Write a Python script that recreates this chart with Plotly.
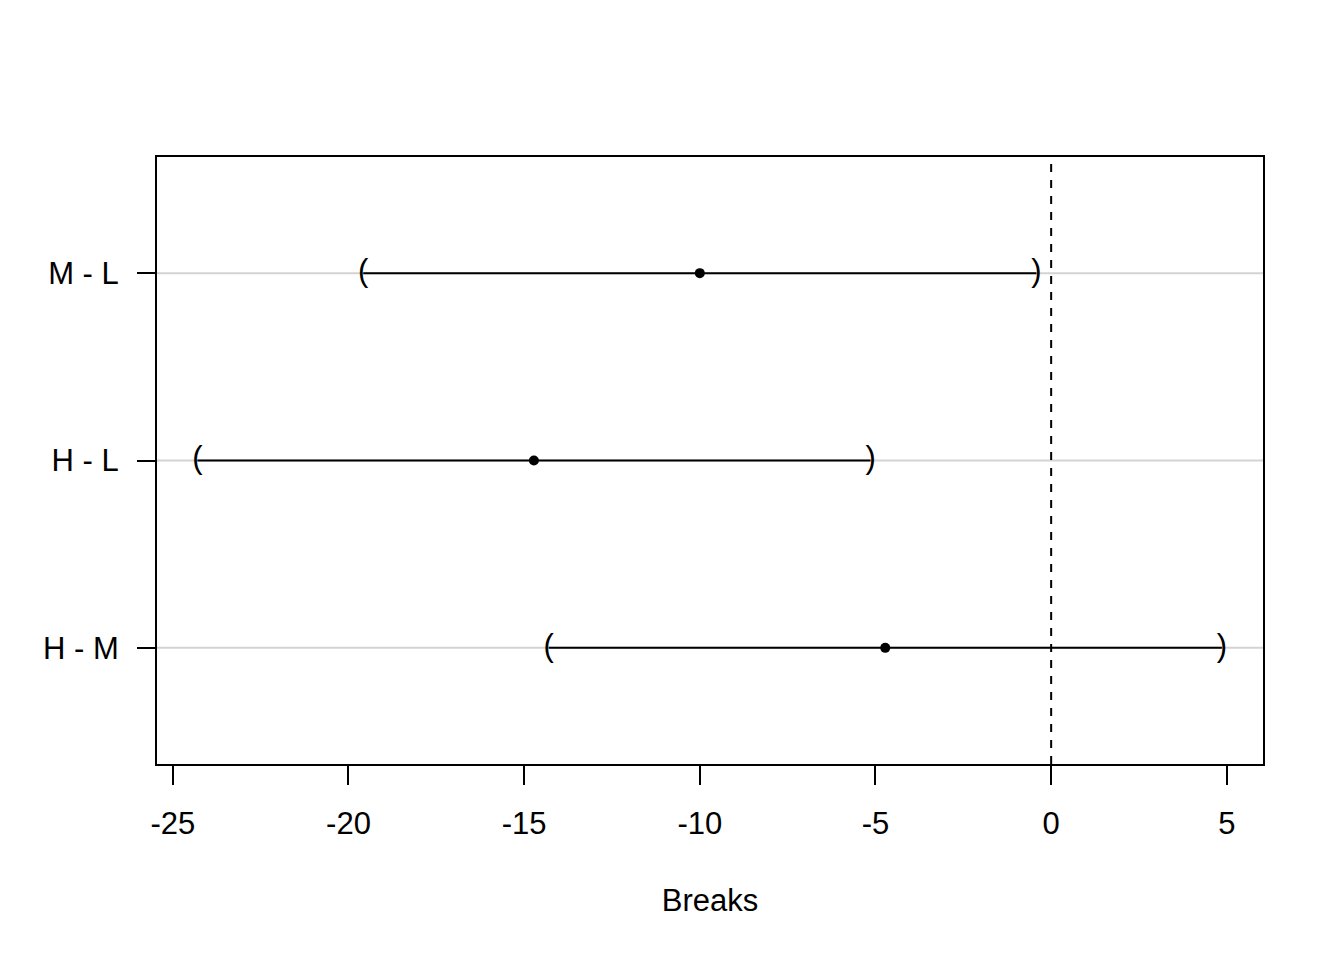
import plotly.graph_objects as go

comparisons = ["H - M", "H - L", "M - L"]
diff = [-4.722, -14.722, -10.000]
lwr = [-14.30, -24.30, -19.58]
upr = [4.86, -5.14, -0.42]

ypos = list(range(1, len(comparisons) + 1))
FONT = "Liberation Sans, Arial, sans-serif"
FS = 31

fig = go.Figure()

# grid lines (horizontal light grey at each comparison)
for y in ypos:
    fig.add_shape(type="line", xref="paper", yref="y", x0=0, x1=1, y0=y, y1=y,
                  line=dict(color="#d3d3d3", width=2), layer="below")

# zero reference
fig.add_shape(type="line", xref="x", yref="paper", x0=0, x1=0, y0=0, y1=1,
              line=dict(color="black", width=2, dash="8px,8px"))

# interval segments
for lo, hi, y in zip(lwr, upr, ypos):
    fig.add_trace(go.Scatter(x=[lo, hi], y=[y, y], mode="lines",
                             line=dict(color="black", width=2),
                             showlegend=False, hoverinfo="skip"))

# brackets
fig.add_trace(go.Scatter(x=lwr, y=ypos, mode="text", text=["("] * len(lwr),
                         textposition="middle center",
                         textfont=dict(family=FONT, size=FS, color="black"),
                         showlegend=False, hoverinfo="skip"))
fig.add_trace(go.Scatter(x=upr, y=ypos, mode="text", text=[")"] * len(upr),
                         textposition="middle center",
                         textfont=dict(family=FONT, size=FS, color="black"),
                         showlegend=False, hoverinfo="skip"))

# point estimates
fig.add_trace(go.Scatter(x=diff, y=ypos, mode="markers",
                         marker=dict(color="black", size=10),
                         showlegend=False, hoverinfo="skip"))

fig.update_layout(
    width=1344, height=960,
    margin=dict(l=149, r=89, t=149, b=204),
    paper_bgcolor="white", plot_bgcolor="white",
    font=dict(family=FONT, size=FS, color="black"),
    showlegend=False,
)
fig.update_xaxes(range=[-25.45, 6.03], tickvals=[-25, -20, -15, -10, -5, 0, 5],
                 ticktext=["-25", "-20", "-15", "-10", "-5", "0", "5"],
                 ticks="outside", ticklen=19, tickwidth=2, tickcolor="black",
                 showline=True, linecolor="black", linewidth=2, mirror=True,
                 showgrid=False, zeroline=False, ticklabelstandoff=12,
                 title=dict(text="Breaks", font=dict(size=FS), standoff=49),
                 tickfont=dict(size=FS))
fig.update_yaxes(range=[0.38, 3.62], tickvals=ypos, ticktext=comparisons,
                 ticks="outside", ticklen=18, tickwidth=2, tickcolor="black",
                 showline=True, linecolor="black", linewidth=2, mirror=True,
                 showgrid=False, zeroline=False, tickfont=dict(size=FS),
                 ticklabelstandoff=12)

fig.write_html("out.html")
